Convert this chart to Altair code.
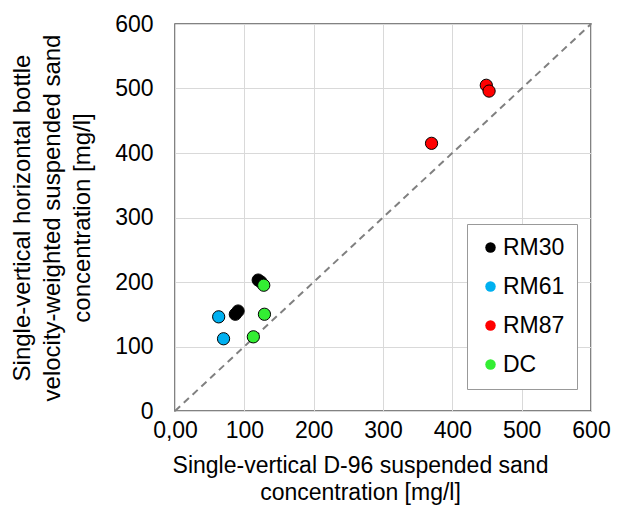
import altair as alt
import pandas as pd

series = ["RM30", "RM30", "RM30", "RM30", "RM61", "RM61", "RM87", "RM87", "RM87", "DC", "DC", "DC"]
d96 = [120, 124, 87, 91, 63, 70, 449, 453, 370, 128, 129, 113]
bottle = [203, 200, 150, 155, 146, 112, 505, 496, 415, 195, 150, 115]

order = ["RM30", "RM61", "RM87", "DC"]
colors = ["#000000", "#00B0F0", "#FF0000", "#33EE33"]

line_x = [0, 600]
line_y = [0, 600]

df = pd.DataFrame({"series": series, "x": d96, "y": bottle})
ldf = pd.DataFrame({"x": line_x, "y": line_y})

FONT = "Liberation Sans"

xscale = alt.Scale(domain=[0, 600], nice=False)
yscale = alt.Scale(domain=[0, 600], nice=False)

xaxis = alt.Axis(
    title=["Single-vertical D-96 suspended sand", "concentration [mg/l]"],
    values=[0, 100, 200, 300, 400, 500, 600],
    labelExpr="datum.value == 0 ? '0,00' : datum.label",
    format="d",
    labelFlush=False,
    labelOverlap=False,
    titleX=185,
    titleAlign="center",
)
yaxis = alt.Axis(
    title=["Single-vertical horizontal bottle", "velocity-weighted suspended sand", "concentration [mg/l]"],
    values=[0, 100, 200, 300, 400, 500, 600],
    format="d",
    labelFlush=False,
    labelOverlap=False,
)

diag = alt.Chart(ldf).mark_line(color="#808080", strokeDash=[7, 5], strokeWidth=2).encode(
    x=alt.X("x:Q", scale=xscale, axis=xaxis),
    y=alt.Y("y:Q", scale=yscale, axis=yaxis),
)

pts = alt.Chart(df).mark_point(filled=True, size=150, stroke="#000000", strokeWidth=1, opacity=1).encode(
    x=alt.X("x:Q", scale=xscale),
    y=alt.Y("y:Q", scale=yscale),
    fill=alt.Fill(
        "series:N",
        scale=alt.Scale(domain=order, range=colors),
        sort=order,
        legend=alt.Legend(
            title=None,
            orient="none",
            legendX=292,
            legendY=200,
            fillColor="white",
            strokeColor="#999999",
            padding=12,
            rowPadding=15,
            labelFontSize=23,
            labelFont=FONT,
            labelColor="#000000",
            symbolSize=110,
            symbolStrokeWidth=0,
            symbolType="circle",
            labelOffset=1,
        ),
    ),
)

chart = alt.layer(diag, pts).properties(
    width=416, height=387,
    autosize=alt.AutoSizeParams(type="none"),
    padding={"left": 167, "top": 16, "right": 20, "bottom": 99},
).configure_view(
    stroke="#595959", strokeWidth=1.5
).configure_axis(
    grid=True,
    gridColor="#d9d9d9",
    gridWidth=1,
    domain=False,
    ticks=False,
    labelFont=FONT,
    labelFontSize=23,
    labelColor="#000000",
    titleFont=FONT,
    titleFontSize=24,
    titleLineHeight=30,
    titleFontWeight="normal",
    titleColor="#000000",
).configure_axisX(titlePadding=12, titleLineHeight=27, titleFontSize=23, labelPadding=8).configure_axisY(titlePadding=20, labelPadding=22)

chart.save("out.html", embed_options={"renderer": "svg", "actions": False})
